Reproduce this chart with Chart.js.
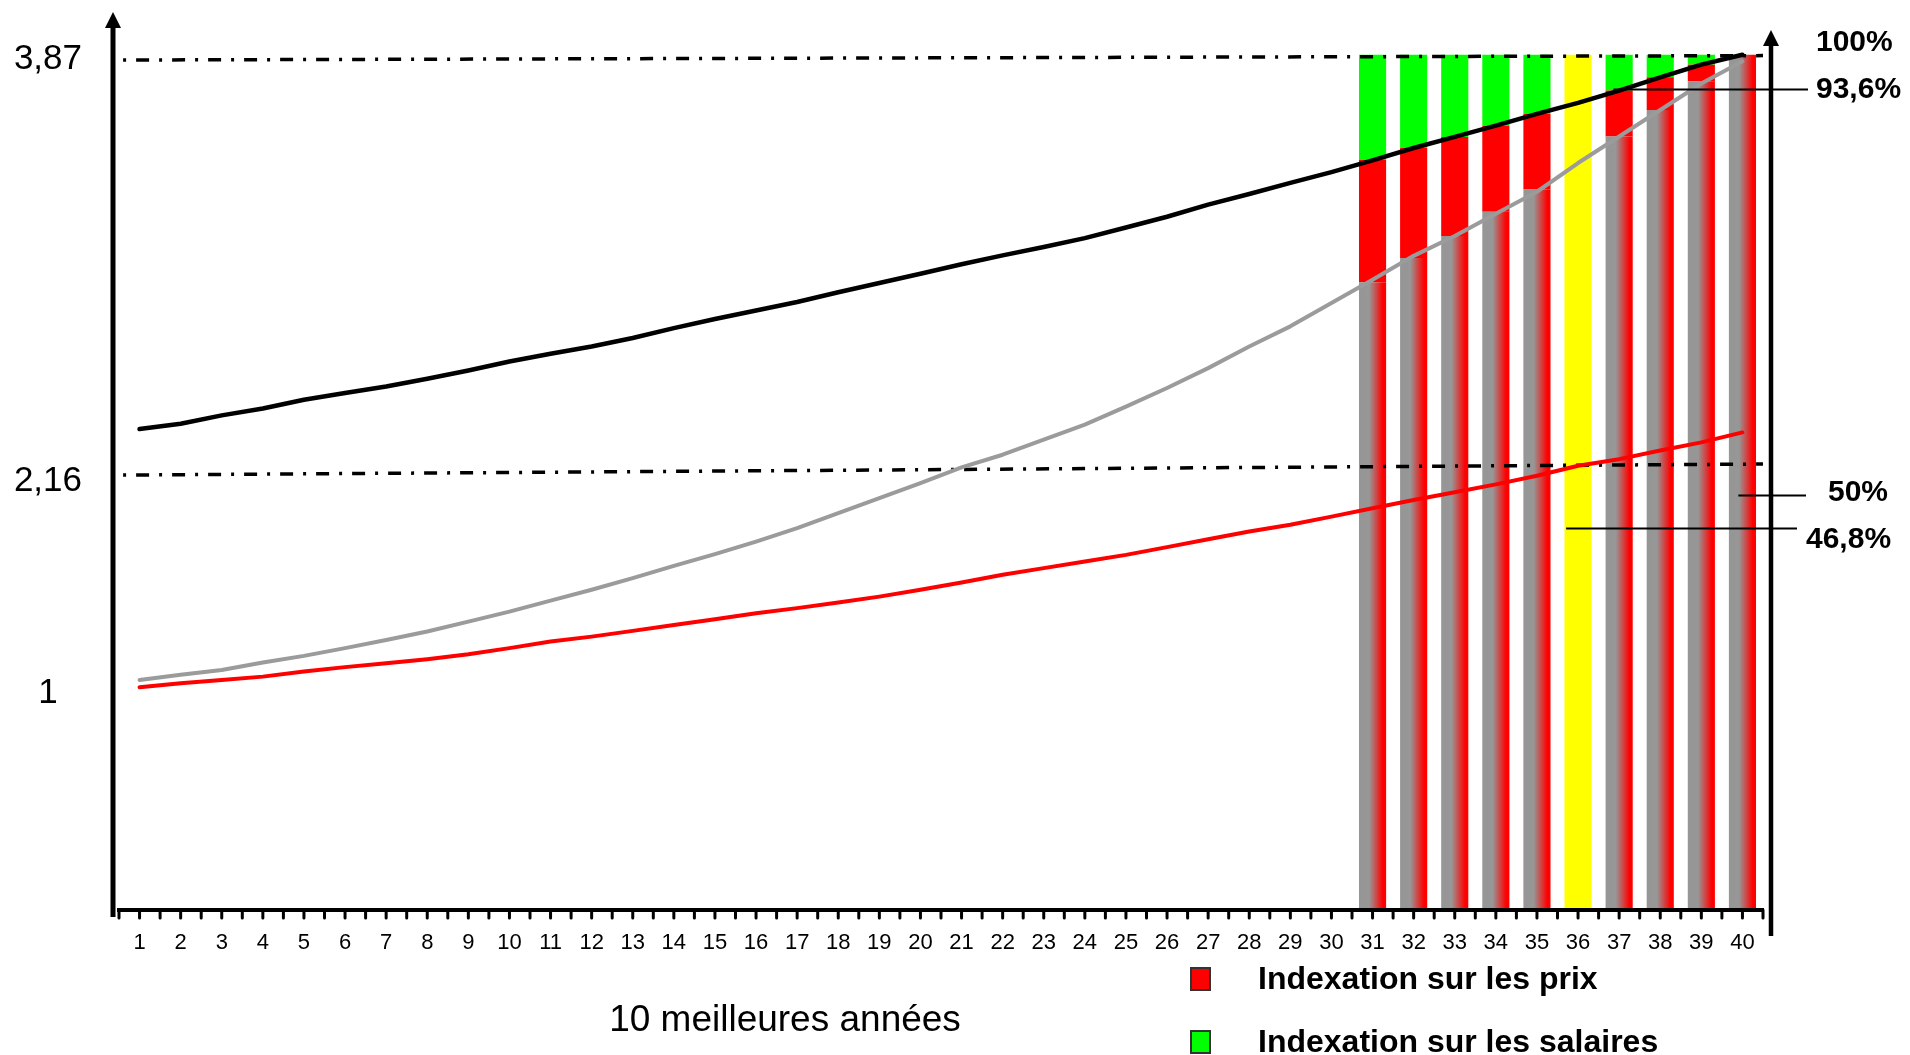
<!DOCTYPE html>
<html><head><meta charset="utf-8">
<script src="https://cdn.jsdelivr.net/npm/chart.js@4.4.1/dist/chart.umd.min.js"></script>
<style>
html,body{margin:0;padding:0;background:#fff;overflow:hidden;}
#c{display:block;}
</style></head><body>
<canvas id="c" width="1910" height="1055"></canvas>
<script>
// ---------- data ----------
const years = [1,2,3,4,5,6,7,8,9,10,11,12,13,14,15,16,17,18,19,20,21,22,23,24,25,26,27,28,29,30,31,32,33,34,35,36,37,38,39,40];

// black curve
const blackLine = [2.176,2.200,2.238,2.269,2.309,2.339,2.369,2.404,2.441,2.482,
                   2.517,2.550,2.588,2.633,2.674,2.713,2.751,2.795,2.837,2.879,
                   2.922,2.962,3.000,3.040,3.088,3.137,3.192,3.240,3.290,3.339,
                   3.392,3.448,3.498,3.549,3.602,3.652,3.708,3.768,3.825,3.870];
// grey curve (salaires)
const greyLine = [1.041,1.064,1.086,1.120,1.150,1.185,1.222,1.260,1.305,1.350,
                  1.400,1.449,1.502,1.557,1.610,1.667,1.728,1.796,1.864,1.932,
                  2.003,2.060,2.128,2.196,2.278,2.362,2.452,2.550,2.641,2.747,
                  2.852,2.960,3.050,3.150,3.250,3.380,3.500,3.620,3.740,3.840];
// red curve (prix)
const redLine = [1.008,1.026,1.041,1.056,1.079,1.099,1.117,1.135,1.157,1.185,
                 1.215,1.237,1.263,1.290,1.316,1.343,1.366,1.391,1.418,1.449,
                 1.482,1.517,1.547,1.577,1.607,1.642,1.678,1.713,1.743,1.780,
                 1.818,1.855,1.890,1.926,1.965,2.010,2.040,2.079,2.116,2.161];

// the 10 best years (bars)
const barYears   = [31,32,33,34,35,36,37,38,39,40];
const barGreyTop = [2.84,2.95,3.05,3.16,3.26,null,3.50,3.62,3.75,3.87];
const barRedTop  = [3.395,3.448,3.498,3.549,3.602,null,3.708,3.768,3.825,3.87];
const barTop     = [3.87,3.87,3.87,3.87,3.87,3.87,3.87,3.87,3.87,3.87];
const yellowYear = [36];

// dash-dot reference lines [start, end]
const refTopLine = [3.846, 3.866];
const refMidLine = [1.968, 2.018];

// y tick labels
const yTickValues = [0.98, 1.94, 3.85];
const yTickLabels = ['1', '2,16', '3,87'];

// percentages on the right
const pctLabels       = ['100%', '93,6%', '50%', '46,8%'];
const pctTextLevels   = [3.923, 3.710, 1.887, 1.674];
const pctLeaderLevels = [null, 3.715, 1.878, 1.730];
const pctLeaderFrom   = [null, 36.86, 39.9, 35.71];

const legendLabels = ['Indexation sur les prix', 'Indexation sur les salaires'];
const legendColors = ['#ff0000', '#00ff00'];
const xTitle = '10 meilleures années';

// ---------- build ----------
const FONT = '"Liberation Sans", Arial, sans-serif';
const GREY = 'rgb(150,150,150)';

function gradFill(ctx) {
  const chart = ctx.chart;
  if (!chart.chartArea || ctx.type !== 'data' || !ctx.raw) return GREY;
  const xs = chart.scales.x;
  const cx = xs.getPixelForValue(ctx.raw.x);
  const w = (xs.getPixelForValue(1) - xs.getPixelForValue(0)) * 0.66;
  const g = chart.ctx.createLinearGradient(cx - w / 2, 0, cx + w / 2, 0);
  g.addColorStop(0, GREY);
  g.addColorStop(0.38, 'rgb(152,150,150)');
  g.addColorStop(0.88, 'rgb(255,0,0)');
  g.addColorStop(1, 'rgb(255,0,0)');
  return g;
}

const segGrey = [], segRed = [], segGreen = [];
barYears.forEach((yr, i) => {
  if (barGreyTop[i] != null) segGrey.push({x: yr, y: [0, barGreyTop[i]]});
  if (barGreyTop[i] != null && barRedTop[i] > barGreyTop[i]) segRed.push({x: yr, y: [barGreyTop[i], barRedTop[i]]});
  if (barRedTop[i] != null && barTop[i] > barRedTop[i]) segGreen.push({x: yr, y: [barRedTop[i], barTop[i]]});
});
const segYellow = yellowYear.map(yr => ({x: yr, y: [0, barTop[barYears.indexOf(yr)]]}));

const barBase = {type: 'bar', grouped: false, barPercentage: 0.66, categoryPercentage: 1, borderWidth: 0, order: 2};
const lineBase = {type: 'line', pointRadius: 0, tension: 0, borderWidth: 4, order: 0, borderCapStyle: 'round', borderJoinStyle: 'round'};

const datasets = [
  Object.assign({}, barBase, {label: 'grey', data: segGrey, backgroundColor: gradFill}),
  Object.assign({}, barBase, {label: 'prix', data: segRed, backgroundColor: '#ff0000'}),
  Object.assign({}, barBase, {label: 'salaires', data: segGreen, backgroundColor: '#00ff00'}),
  Object.assign({}, barBase, {label: 'yellow', data: segYellow, backgroundColor: '#ffff00'}),
  Object.assign({}, lineBase, {label: 'ref1', data: [{x: 0.6, y: refTopLine[0]}, {x: 40.5, y: refTopLine[1]}], borderColor: '#000', borderWidth: 3.5, borderDash: [3, 10, 13, 10], borderCapStyle: 'butt', order: 1}),
  Object.assign({}, lineBase, {label: 'ref2', data: [{x: 0.6, y: refMidLine[0]}, {x: 40.5, y: refMidLine[1]}], borderColor: '#000', borderWidth: 3.5, borderDash: [3, 10, 13, 10], borderCapStyle: 'butt', order: 1}),
  Object.assign({}, lineBase, {label: 'red', data: years.map((x, i) => ({x, y: redLine[i]})), borderColor: '#ff0000'}),
  Object.assign({}, lineBase, {label: 'grey line', data: years.map((x, i) => ({x, y: greyLine[i]})), borderColor: '#9b9b9b'}),
  Object.assign({}, lineBase, {label: 'black', data: years.map((x, i) => ({x, y: blackLine[i]})), borderColor: '#000000', borderWidth: 4.5})
];

const decor = {
  id: 'decor',
  afterDraw(chart) {
    const ctx = chart.ctx, a = chart.chartArea, xs = chart.scales.x, ys = chart.scales.y;
    ctx.save();
    ctx.strokeStyle = '#000'; ctx.fillStyle = '#000';
    // x axis line
    ctx.lineWidth = 4; ctx.lineCap = 'butt';
    ctx.beginPath(); ctx.moveTo(a.left - 2, a.bottom); ctx.lineTo(a.right + 1, a.bottom); ctx.stroke();
    // x tick marks every half unit
    ctx.lineWidth = 3; ctx.lineCap = 'round';
    for (let v = 0.5; v <= 40.5; v += 0.5) {
      const px = xs.getPixelForValue(v);
      ctx.beginPath(); ctx.moveTo(px, a.bottom); ctx.lineTo(px, a.bottom + 8); ctx.stroke();
    }
    ctx.lineCap = 'butt';
    // left axis
    const lx = a.left - 6;
    ctx.lineWidth = 5;
    ctx.beginPath(); ctx.moveTo(lx, a.bottom + 7); ctx.lineTo(lx, 24); ctx.stroke();
    ctx.beginPath(); ctx.moveTo(lx, 12); ctx.lineTo(lx - 8, 28); ctx.lineTo(lx + 8, 28); ctx.closePath(); ctx.fill();
    // right axis
    const rx = a.right + 8;
    ctx.lineWidth = 4.5;
    ctx.beginPath(); ctx.moveTo(rx, 936); ctx.lineTo(rx, 40); ctx.stroke();
    ctx.beginPath(); ctx.moveTo(rx, 30); ctx.lineTo(rx - 8, 46); ctx.lineTo(rx + 8, 46); ctx.closePath(); ctx.fill();
    // percentage annotations
    const pctTextX = [1816, 1816, 1828, 1806];
    const pctLineEndX = [null, 1808, 1806, 1797];
    ctx.lineWidth = 2;
    ctx.font = 'bold 30px ' + FONT; ctx.textBaseline = 'middle'; ctx.textAlign = 'left';
    pctLabels.forEach((t, i) => {
      if (pctLeaderLevels[i] != null) {
        const py = Math.round(ys.getPixelForValue(pctLeaderLevels[i])) + 0.5;
        ctx.beginPath(); ctx.moveTo(xs.getPixelForValue(pctLeaderFrom[i]), py); ctx.lineTo(pctLineEndX[i], py); ctx.stroke();
      }
      ctx.fillText(t, pctTextX[i], ys.getPixelForValue(pctTextLevels[i]));
    });
    // legend
    const legY = [979, 1042];
    legendLabels.forEach((t, i) => {
      ctx.fillStyle = legendColors[i];
      ctx.fillRect(1191, legY[i] - 11, 19, 22);
      ctx.strokeStyle = '#333'; ctx.lineWidth = 2;
      ctx.strokeRect(1191, legY[i] - 11, 19, 22);
      ctx.fillStyle = '#000';
      ctx.font = 'bold 32px ' + FONT;
      ctx.fillText(t, 1258, legY[i] + 1);
    });
    // x title
    ctx.font = '37px ' + FONT; ctx.textAlign = 'center';
    ctx.fillText(xTitle, 785, 1021);
    ctx.restore();
  }
};

new Chart(document.getElementById('c'), {
  data: {datasets},
  options: {
    responsive: false,
    animation: false,
    devicePixelRatio: 1,
    layout: {padding: {top: 26, right: 147, bottom: 0, left: 0}},
    plugins: {legend: {display: false}, tooltip: {enabled: false}},
    scales: {
      x: {
        type: 'linear', min: 0.5, max: 40.5, offset: false,
        afterBuildTicks: s => { s.ticks = years.map(v => ({value: v})); },
        afterFit: s => { s.height = 145; s.paddingLeft = 0; s.paddingRight = 0; },
        ticks: {autoSkip: false, maxRotation: 0, minRotation: 0, padding: 20, color: '#000',
                font: {family: FONT, size: 22}, callback: v => String(v)},
        grid: {display: false, drawTicks: false, offset: false},
        border: {display: false}
      },
      y: {
        type: 'linear', min: 0, max: 4,
        afterBuildTicks: s => { s.ticks = yTickValues.map(v => ({value: v})); },
        afterFit: s => { s.width = 119; s.paddingTop = 0; s.paddingBottom = 0; },
        ticks: {crossAlign: 'center', padding: 37, color: '#000',
                font: {family: FONT, size: 35}, callback: (v, i) => yTickLabels[i]},
        grid: {display: false, drawTicks: false},
        border: {display: false}
      }
    }
  },
  plugins: [decor]
});
</script>
</body></html>
